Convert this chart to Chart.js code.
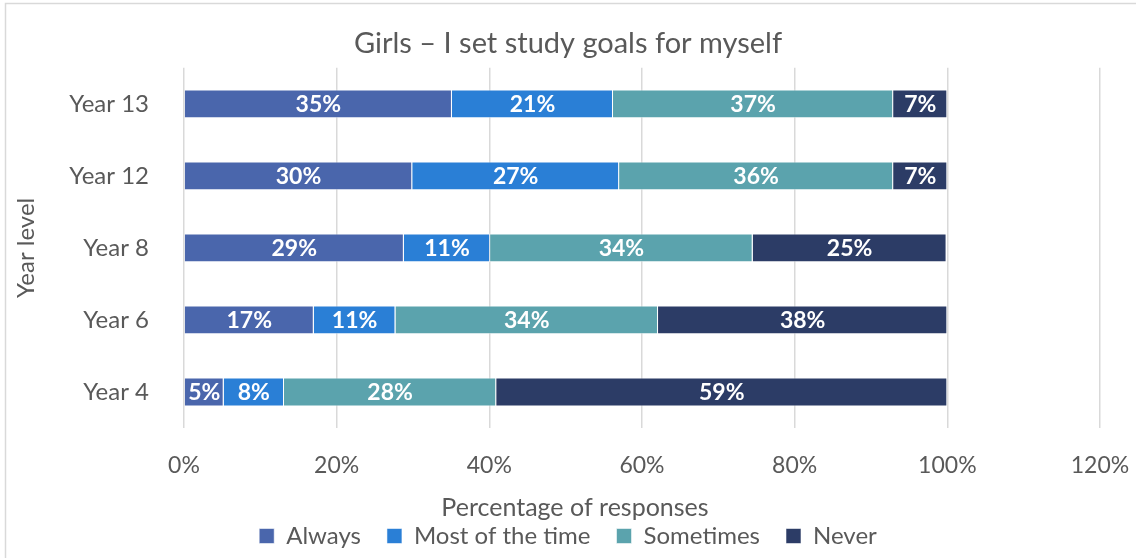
<!DOCTYPE html>
<html>
<head>
<meta charset="utf-8">
<script src="https://cdn.jsdelivr.net/npm/chart.js@4/dist/chart.umd.min.js"></script>
<style>
  html, body { margin: 0; padding: 0; background: #ffffff; }
  #wrap { width: 1136px; height: 558px; position: relative; }
</style>
</head>
<body>
<div id="wrap"><canvas id="girlsGoals"></canvas></div>
<script>
// Year levels, top to bottom
const yearLevels = ["Year 13", "Year 12", "Year 8", "Year 6", "Year 4"];

// Share of responses (%) per answer
const always = [35.1, 29.9, 28.8, 17.0, 5.2];
const mostOfTheTime = [21.1, 27.1, 11.3, 10.7, 7.9];
const sometimes = [36.7, 35.9, 34.4, 34.4, 27.8];
const never = [7.1, 7.1, 25.4, 37.9, 59.1];

const xTicks = [0, 20, 40, 60, 80, 100, 120];
const xAxisTitle = "Percentage of responses";

const textGrey = "#595959";
const fontFamily = "Lato, 'Open Sans', sans-serif";

// white bold percentages in the middle of each segment
const barLabels = {
  id: "barLabels",
  afterDatasetsDraw(chart) {
    const ctx = chart.ctx;
    ctx.save();
    ctx.font = "bold 23px " + fontFamily;
    ctx.fillStyle = "#ffffff";
    ctx.textAlign = "center";
    ctx.textBaseline = "middle";
    chart.data.datasets.forEach((ds, i) => {
      chart.getDatasetMeta(i).data.forEach((bar, j) => {
        const p = bar.getCenterPoint();
        ctx.fillText(Math.round(ds.data[j]) + "%", p.x, p.y + 1);
      });
    });
    ctx.restore();
  }
};

// light frame round the whole chart
const frame = {
  id: "frame",
  beforeDraw(chart) {
    const ctx = chart.ctx;
    ctx.save();
    ctx.fillStyle = "#ffffff";
    ctx.fillRect(0, 0, chart.width, chart.height);
    ctx.strokeStyle = "#d9d9d9";
    ctx.lineWidth = 1.5;
    ctx.strokeRect(5.5, 3.5, chart.width + 20, chart.height + 20);
    ctx.restore();
  }
};

// x axis title sits centred on the whole chart, not on the plot
const xTitle = {
  id: "xTitle",
  afterDraw(chart) {
    const ctx = chart.ctx;
    const x = chart.scales.x;
    ctx.save();
    ctx.font = "25px " + fontFamily;
    ctx.fillStyle = textGrey;
    ctx.textAlign = "center";
    ctx.textBaseline = "middle";
    ctx.fillText(xAxisTitle, chart.width / 2 + 7, x.bottom + 10);
    ctx.restore();
  }
};

const edge = "rgba(255,255,255,0.55)";

new Chart(document.getElementById("girlsGoals"), {
  type: "bar",
  data: {
    labels: yearLevels,
    datasets: [
      { label: "Always", data: always, backgroundColor: "#4a66ac", borderColor: edge, borderWidth: 1 },
      { label: "Most of the time", data: mostOfTheTime, backgroundColor: "#2a7fd6", borderColor: edge, borderWidth: 1 },
      { label: "Sometimes", data: sometimes, backgroundColor: "#5ba3ad", borderColor: edge, borderWidth: 1 },
      { label: "Never", data: never, backgroundColor: "#2c3c66", borderColor: edge, borderWidth: 1 }
    ]
  },
  options: {
    indexAxis: "y",
    responsive: true,
    maintainAspectRatio: false,
    animation: false,
    barPercentage: 0.4,
    categoryPercentage: 1,
    layout: { padding: 0 },
    scales: {
      x: {
        stacked: true,
        min: 0,
        max: 120,
        afterBuildTicks: (scale) => { scale.ticks = xTicks.map(v => ({ value: v })); },
        afterFit: (scale) => {
          scale.height = 70;
          scale.paddingLeft = 0;
          scale.paddingRight = 36;
        },
        grid: { color: "#d9d9d9", lineWidth: 1.5, drawTicks: false },
        border: { display: false },
        ticks: {
          padding: 24,
          color: textGrey,
          font: { family: fontFamily, size: 23 },
          callback: (v) => v + "%"
        }
      },
      y: {
        stacked: true,
        afterFit: (scale) => { scale.width = 184; },
        grid: { display: false },
        border: { display: false },
        ticks: {
          padding: 27,
          color: textGrey,
          font: { family: fontFamily, size: 24 }
        },
        title: {
          display: true,
          text: "Year level",
          color: textGrey,
          font: { family: fontFamily, size: 24 },
          padding: { top: 12, bottom: 0 }
        }
      }
    },
    plugins: {
      title: {
        display: true,
        text: "Girls – I set study goals for myself",
        color: textGrey,
        font: { family: fontFamily, size: 29, weight: "normal" },
        padding: { top: 26, bottom: 7 }
      },
      legend: {
        position: "bottom",
        labels: {
          boxWidth: 15,
          boxHeight: 15,
          padding: 26,
          color: textGrey,
          font: { family: fontFamily, size: 24 }
        }
      },
      tooltip: { enabled: false }
    }
  },
  plugins: [frame, barLabels, xTitle]
});
</script>
</body>
</html>
